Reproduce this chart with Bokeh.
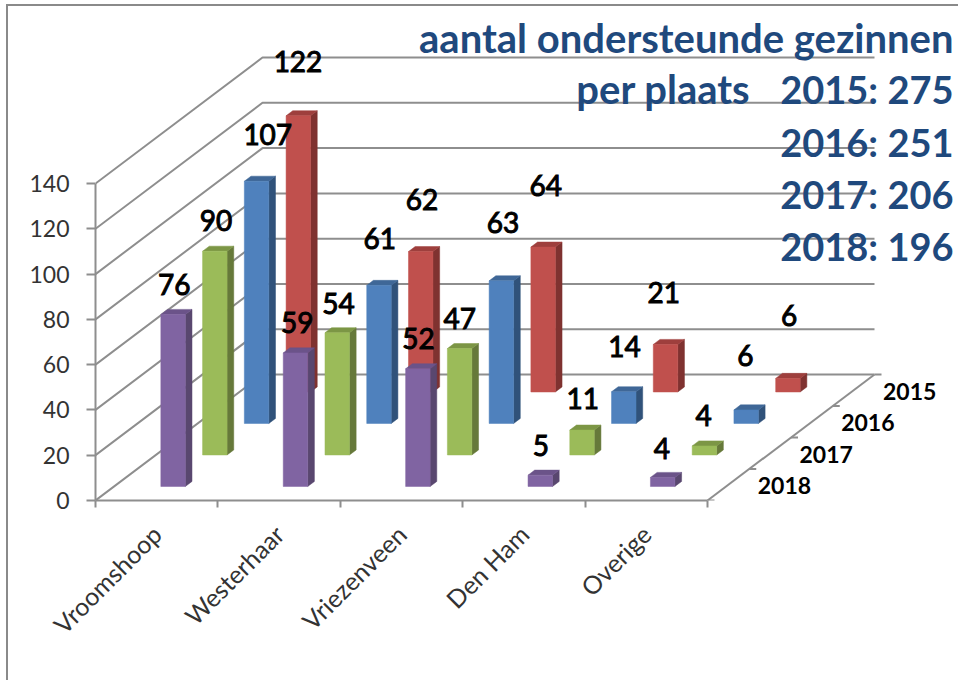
from math import pi
from bokeh.plotting import figure
from bokeh.embed import file_html
from bokeh.resources import INLINE
from bokeh.core.properties import value
from bokeh.models import Range1d, FixedTicker

categories = ["Vroomshoop", "Westerhaar", "Vriezenveen", "Den Ham", "Overige"]
years = ["2018", "2017", "2016", "2015"]
v2015 = [122, 62, 64, 21, 6]
v2016 = [107, 61, 63, 14, 6]
v2017 = [90, 54, 47, 11, 4]
v2018 = [76, 59, 52, 5, 4]
y_ticks = [0, 20, 40, 60, 80, 100, 120, 140]
title_lines = ["aantal ondersteunde gezinnen", "per plaats", "2015: 275", "2016: 251", "2017: 206", "2018: 196"]

# label offsets (pixels) from the top-front centre of each bar
up_2015 = [55, 53, 62, 53, 64]
dx_2015 = [-1.5, 0, 1.5, -3, 0]
up_2016 = [48, 48, 59, 46, 55]
dx_2016 = [10, -0.5, 0.5, -0.5, -2]
up_2017 = [32, 30, 31, 32, 31]
dx_2017 = [0, 0, -1, -0.5, -2]
up_2018 = [31, 31, 31, 30, 30]
dx_2018 = [0, 0.5, -0.5, -0.5, -2]

ORIGIN_X, ORIGIN_Y = 8, 6          # where the figure sits on the page
PAGE_W, PAGE_H = 960, 682
W, H = PAGE_W - ORIGIN_X, PAGE_H - ORIGIN_Y
PAGE_L, PAGE_B = 95, 500           # page position of the chart's front-left corner
FRAME_L, FRAME_B = PAGE_L - ORIGIN_X, PAGE_B - ORIGIN_Y
PX_CAT, PX_VAL = 122.4, 2.264
ROW_DX, ROW_DY = 41.75, 31.5
FONT = "Lato"

def pj(c, r, v):
    return c + r * ROW_DX / PX_CAT, v + r * ROW_DY / PX_VAL

def sx(px):
    return (px - PAGE_L) / PX_CAT

def sy(py):
    return (PAGE_B - py) / PX_VAL

p = figure(width=W, height=H, output_backend="svg", toolbar_location=None,
           x_range=Range1d(0, (W - FRAME_L) / PX_CAT), y_range=Range1d(0, FRAME_B / PX_VAL),
           min_border_left=FRAME_L, min_border_right=0, min_border_top=0, min_border_bottom=H - FRAME_B,
           frame_width=W - FRAME_L, frame_height=FRAME_B,
           styles={"position": "absolute", "left": f"{ORIGIN_X}px", "top": f"{ORIGIN_Y}px",
                   "box-shadow": "-2px -2px 0 0 #8A8A8A"})
p.outline_line_color = None
p.grid.visible = False
p.background_fill_color = "white"
p.border_fill_color = "white"

GRID = "#8E8E8E"
ax = p.yaxis[0]
ax.ticker = FixedTicker(ticks=y_ticks)
ax.bounds = (0, 140)
ax.axis_line_color = GRID
ax.axis_line_width = 2
ax.major_tick_line_color = GRID
ax.major_tick_line_width = 2
ax.major_tick_out = 9
ax.major_tick_in = 0
ax.minor_tick_out = 0
ax.minor_tick_in = 0
ax.major_label_standoff = 17
ax.major_label_text_font = FONT
ax.major_label_text_font_size = "23px"
ax.major_label_text_color = "#333333"

xa = p.xaxis[0]
centers = [i + 0.5 for i in range(len(categories))]
xa.ticker = FixedTicker(ticks=centers, minor_ticks=list(range(len(categories) + 1)))
xa.major_label_overrides = {c: n for c, n in zip(centers, categories)}
xa.bounds = (0, 5)
xa.axis_line_color = GRID
xa.axis_line_width = 2
xa.major_tick_out = 0
xa.major_tick_in = 0
xa.minor_tick_out = 7
xa.minor_tick_in = 0
xa.minor_tick_line_color = GRID
xa.minor_tick_line_width = 2
xa.major_label_orientation = pi / 4
xa.major_label_standoff = 22
xa.major_label_text_font = FONT
xa.major_label_text_font_size = "25px"
xa.major_label_text_color = "#333333"

# walls and floor
gx, gy = [], []
for t in y_ticks:
    a = pj(0, 0, t); b = pj(0, 4, t); c = pj(5, 4, t)
    gx.append([a[0], b[0], c[0]]); gy.append([a[1], b[1], c[1]])
a = pj(5, 0, 0); b = pj(5, 4, 0)
gx.append([a[0], b[0]]); gy.append([a[1], b[1]])
p.multi_line(gx, gy, line_color=GRID, line_width=2)

# depth ticks
tx, ty = [], []
for r in range(5):
    a = pj(5, r, 0)
    tx.append([a[0], a[0] + 7 / PX_CAT]); ty.append([a[1], a[1]])
p.multi_line(tx, ty, line_color=GRID, line_width=2)

series = [
    (3, v2015, up_2015, dx_2015, "#C0504D", "#7F3230", "#9E3F3D"),
    (2, v2016, up_2016, dx_2016, "#4F81BD", "#30527A", "#3F6797"),
    (1, v2017, up_2017, dx_2017, "#9BBB59", "#66793A", "#7C9645"),
    (0, v2018, up_2018, dx_2018, "#8064A2", "#59476F", "#6B5389"),
]
BAR_HALF, BAR_CENTER, D0, D1, LABEL_D = 0.1, 0.482, 0.445, 0.605, 0.42
lab_x, lab_y, lab_t, lab_ox, lab_oy = [], [], [], [], []
for r, vals, ups, dxs, front, side, top in series:
    fx, fy, sdx, sdy, tpx, tpy = [], [], [], [], [], []
    for i, v in enumerate(vals):
        l, rr = i + BAR_CENTER - BAR_HALF, i + BAR_CENTER + BAR_HALF
        A = pj(l, r + D0, 0); B = pj(rr, r + D0, 0); C = pj(rr, r + D0, v); E = pj(l, r + D0, v)
        F = pj(rr, r + D1, 0); G = pj(rr, r + D1, v); K = pj(l, r + D1, v)
        fx.append([A[0], B[0], C[0], E[0]]); fy.append([A[1], B[1], C[1], E[1]])
        sdx.append([B[0], F[0], G[0], C[0]]); sdy.append([B[1], F[1], G[1], C[1]])
        tpx.append([E[0], C[0], G[0], K[0]]); tpy.append([E[1], C[1], G[1], K[1]])
        m = pj(i + 0.5, r + LABEL_D, v)
        lab_x.append(m[0]); lab_y.append(m[1]); lab_t.append(str(v))
        lab_ox.append(dxs[i]); lab_oy.append(-ups[i])
    p.patches(sdx, sdy, fill_color=side, line_color=side, line_width=0.5)
    p.patches(tpx, tpy, fill_color=top, line_color=top, line_width=0.5)
    p.patches(fx, fy, fill_color=front, line_color=front, line_width=0.5)

# data labels
p.text(lab_x, lab_y, text=lab_t, x_offset=lab_ox, y_offset=lab_oy, text_align="center",
       text_baseline="middle", text_font=value(FONT), text_font_size="28px", text_color="black",
       text_outline_color="black")

# depth labels
for r, y in enumerate(years):
    a = pj(5, r + 0.5, 0)
    p.text([a[0]], [a[1]], text=[y], x_offset=[56], y_offset=[1], text_align="center", text_baseline="middle",
           text_font=value(FONT), text_font_size="23px", text_font_style="bold", text_color="black")

# title block
title_right = [953, 750, 953, 953, 953, 953]
title_base = [37, 88, 88, 141, 193, 245]
title_size = ["40px", "40px", "38px", "38px", "38px", "38px"]
p.text([sx(v) for v in title_right], [sy(v) for v in title_base], text=title_lines, text_align="right",
       text_baseline="alphabetic", text_font=value(FONT), text_font_size=title_size, text_font_style="bold",
       text_color="#1F497D")

open("out.html", "w").write(file_html(p, INLINE))
